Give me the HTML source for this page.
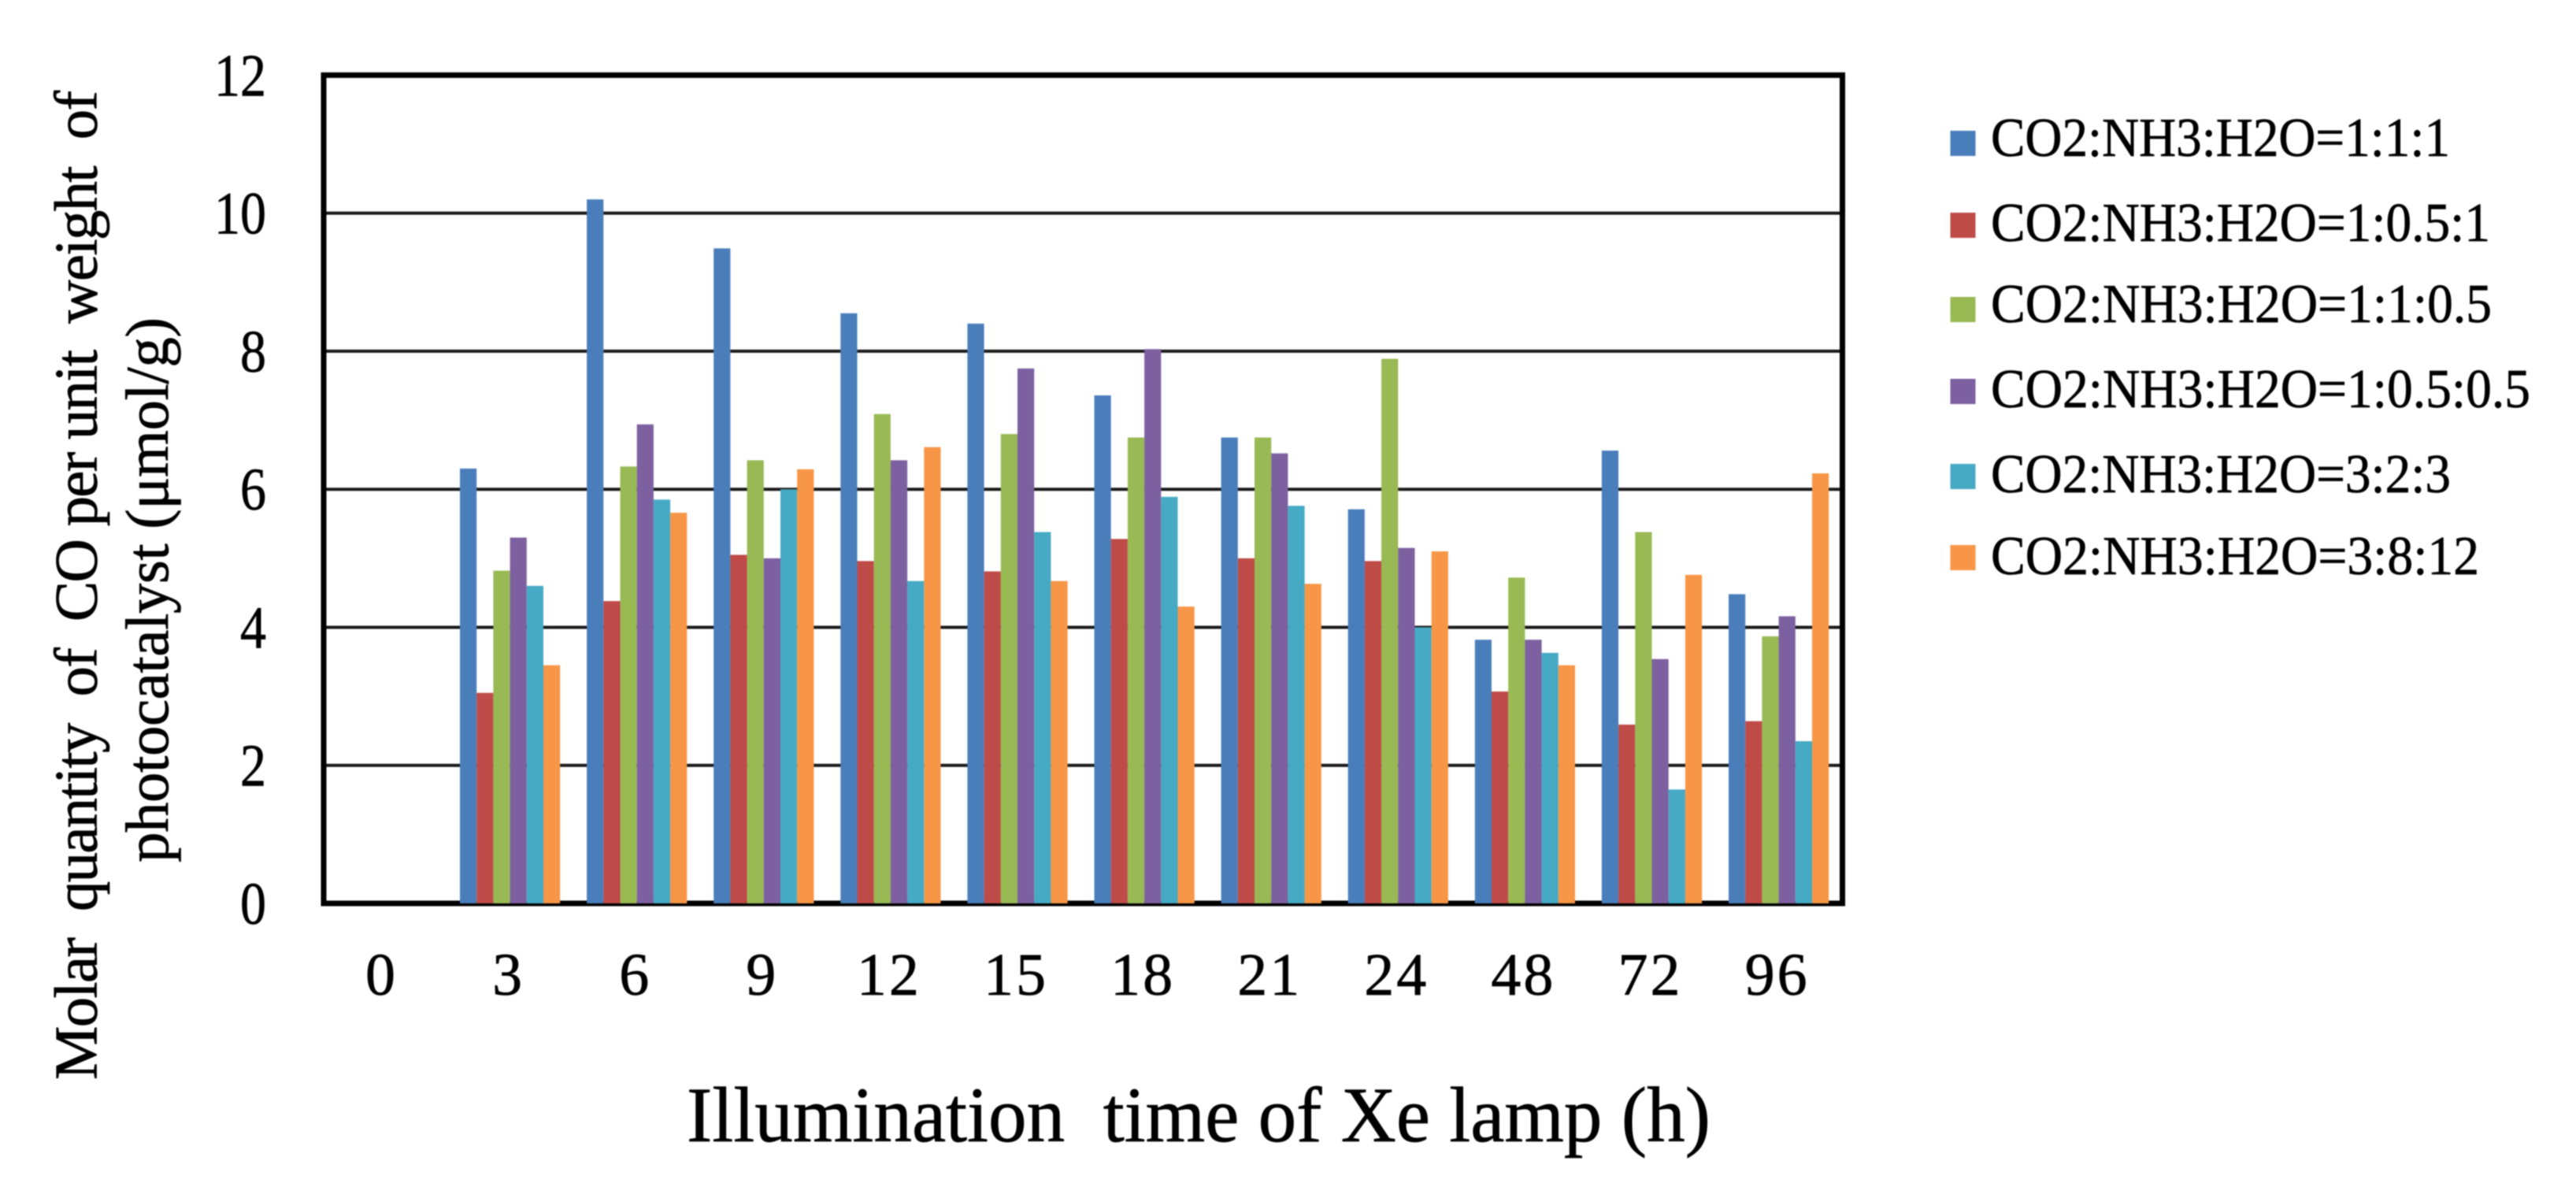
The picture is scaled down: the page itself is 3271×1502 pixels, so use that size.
<!DOCTYPE html>
<html lang="en">
<head>
<meta charset="utf-8">
<title>Molar quantity of CO per unit weight of photocatalyst</title>
<style>
html,body{margin:0;padding:0;background:#fff;}
svg{display:block;filter:blur(0.7px);}
text{font-family:"Liberation Serif",serif;fill:#000;stroke:#000;stroke-width:0.7px;white-space:pre;}
</style>
</head>
<body>
<svg id="chart" xmlns="http://www.w3.org/2000/svg" width="3271" height="1502" viewBox="0 0 3271 1502">
  <rect x="0" y="0" width="3271" height="1502" fill="#fff"/>
  <g id="grid"></g>
  <rect x="411" y="95.4" width="1928.5" height="1051.6" fill="none" stroke="#000" stroke-width="7"/>
  <g id="bars"></g>
  <g id="yticks"></g>
  <g id="xticks"></g>
  <text transform="translate(122.5,1371) rotate(-90)" font-size="77" textLength="1256" lengthAdjust="spacing">Molar  quantity  of  CO per unit  weight  of</text>
  <text transform="translate(213,1095) rotate(-90)" font-size="77" textLength="692" lengthAdjust="spacing">photocatalyst (μmol/g)</text>
  <text x="872" y="1449" font-size="100" textLength="1300" lengthAdjust="spacingAndGlyphs">Illumination  time of Xe lamp (h)</text>
  <g>
    <g>
      <rect x="2476.5" y="166" width="32" height="32" fill="#4a7ebb"/>
      <text x="2528" y="198" font-size="70" textLength="583" lengthAdjust="spacingAndGlyphs">CO2:NH3:H2O=1:1:1</text>
    </g>
    <g>
      <rect x="2476.5" y="270" width="32" height="32" fill="#be4b48"/>
      <text x="2528" y="306" font-size="70" textLength="634" lengthAdjust="spacingAndGlyphs">CO2:NH3:H2O=1:0.5:1</text>
    </g>
    <g>
      <rect x="2476.5" y="377" width="32" height="32" fill="#98b954"/>
      <text x="2528" y="409" font-size="70" textLength="636" lengthAdjust="spacingAndGlyphs">CO2:NH3:H2O=1:1:0.5</text>
    </g>
    <g>
      <rect x="2476.5" y="481" width="32" height="32" fill="#7d60a0"/>
      <text x="2528" y="517" font-size="70" textLength="685" lengthAdjust="spacingAndGlyphs">CO2:NH3:H2O=1:0.5:0.5</text>
    </g>
    <g>
      <rect x="2476.5" y="589" width="32" height="32" fill="#46aac5"/>
      <text x="2528" y="625" font-size="70" textLength="584" lengthAdjust="spacingAndGlyphs">CO2:NH3:H2O=3:2:3</text>
    </g>
    <g>
      <rect x="2476.5" y="692" width="32" height="32" fill="#f79646"/>
      <text x="2528" y="729" font-size="70" textLength="620" lengthAdjust="spacingAndGlyphs">CO2:NH3:H2O=3:8:12</text>
    </g>
  </g>
</svg>
<script>
var categories = ["0","3","6","9","12","15","18","21","24","48","72","96"];
var yTickLabels = [0,2,4,6,8,10,12];
var series1 = [0,6.30,10.20,9.49,8.55,8.40,7.36,6.75,5.71,3.82,6.56,4.48];
var series2 = [0,3.05,4.38,5.05,4.96,4.81,5.28,5.00,4.96,3.07,2.59,2.64];
var series3 = [0,4.82,6.33,6.42,7.09,6.80,6.75,6.75,7.89,4.72,5.38,3.87];
var series4 = [0,5.30,6.94,5.00,6.42,7.75,8.03,6.52,5.15,3.82,3.54,4.16];
var series5 = [0,4.60,5.85,6.00,4.67,5.38,5.89,5.76,4.00,3.63,1.65,2.35];
var series6 = [0,3.45,5.66,6.29,6.61,4.67,4.30,4.63,5.10,3.45,4.76,6.23];
var allSeries = [series1,series2,series3,series4,series5,series6];
var seriesColors = ["#4a7ebb","#be4b48","#98b954","#7d60a0","#46aac5","#f79646"];

var NS = "http://www.w3.org/2000/svg";
var plotTop = 95.4, plotBottom = 1147, plotLeft = 411, plotRight = 2339.5, yMax = 12;
var bandStart = 422.9, bandStep = 161.1, barWidth = 21.2;

function yScale(v){ return plotBottom - (v / yMax) * (plotBottom - plotTop); }
function xBand(i){ return bandStart + bandStep * i; }
function xCenter(i){ return xBand(i) + barWidth * allSeries.length / 2; }

var gridGroup = document.getElementById("grid");
var yTickGroup = document.getElementById("yticks");
var xTickGroup = document.getElementById("xticks");
var barGroup = document.getElementById("bars");

yTickLabels.forEach(function(t){
  if (t > 0 && t < yMax) {
    var line = document.createElementNS(NS, "line");
    
    
    line.setAttribute("x1", plotLeft);
    line.setAttribute("x2", plotRight);
    line.setAttribute("y1", yScale(t));
    line.setAttribute("y2", yScale(t));
    line.setAttribute("stroke", "#1a1a1a");
    line.setAttribute("stroke-width", "4");
    gridGroup.appendChild(line);
  }
  var label = document.createElementNS(NS, "text");
  
  
  label.setAttribute("x", 338);
  label.setAttribute("y", yScale(t) + 26);
  label.setAttribute("font-size", "76");
  label.setAttribute("text-anchor", "end");
  label.setAttribute("textLength", String(t).length * 33);
  label.setAttribute("lengthAdjust", "spacingAndGlyphs");
  label.textContent = String(t);
  yTickGroup.appendChild(label);
});

categories.forEach(function(c, i){
  var label = document.createElementNS(NS, "text");
  
  
  label.setAttribute("x", xCenter(i) - 2);
  label.setAttribute("y", 1263);
  label.setAttribute("font-size", "76");
  label.setAttribute("letter-spacing", "3");
  label.setAttribute("text-anchor", "middle");
  label.textContent = c;
  xTickGroup.appendChild(label);

  allSeries.forEach(function(values, s){
    var bar = document.createElementNS(NS, "rect");
    
    
    bar.setAttribute("x", xBand(i) + s * barWidth);
    bar.setAttribute("y", yScale(values[i]));
    bar.setAttribute("width", barWidth);
    bar.setAttribute("height", plotBottom - yScale(values[i]));
    bar.setAttribute("fill", seriesColors[s]);
    barGroup.appendChild(bar);
  });
});
</script>
</body>
</html>
